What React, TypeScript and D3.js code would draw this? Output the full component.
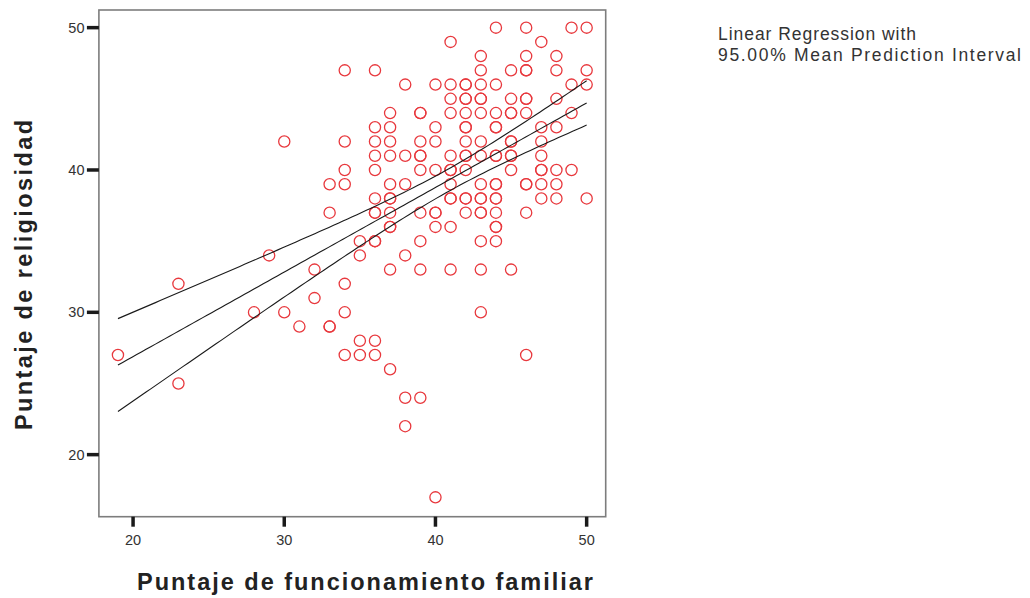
import React from "react";
import * as d3 from "d3";

// Puntaje de funcionamiento familiar (x) — distinct values
const scoreX = [19, 23, 28, 29, 30, 31, 32, 33, 34, 35, 36, 37, 38, 39, 40, 41, 42, 43, 44, 45, 46, 47, 48, 49, 50];
// Puntaje de religiosidad (y) for each x value (duplicates = overlapping circles)
const scoreYByX = [
  [27],
  [32, 25],
  [30],
  [34],
  [42, 30],
  [29],
  [33, 31],
  [39, 37, 29, 29],
  [47, 42, 40, 39, 32, 30, 27],
  [35, 34, 28, 27],
  [47, 43, 42, 41, 40, 38, 37, 37, 35, 35, 28, 27],
  [44, 43, 42, 41, 39, 38, 38, 37, 36, 36, 33, 26],
  [46, 41, 39, 34, 24, 22],
  [44, 44, 42, 41, 41, 40, 37, 35, 33, 24],
  [46, 43, 42, 40, 37, 37, 36, 17],
  [49, 46, 45, 44, 41, 40, 40, 39, 38, 38, 36, 33],
  [46, 46, 45, 45, 44, 43, 43, 42, 41, 41, 40, 38, 38, 37],
  [48, 47, 46, 45, 45, 44, 42, 41, 39, 38, 38, 37, 37, 35, 33, 30],
  [50, 46, 44, 43, 43, 41, 41, 39, 39, 38, 38, 37, 36, 36, 35],
  [47, 45, 44, 44, 42, 42, 41, 41, 40, 33],
  [50, 48, 47, 47, 45, 45, 44, 39, 39, 37, 27],
  [49, 43, 42, 41, 40, 40, 39, 38],
  [48, 47, 45, 43, 40, 39, 38],
  [50, 46, 44, 40],
  [50, 47, 46, 38],
];

const xTicks = [20, 30, 40, 50];
const yTicks = [20, 30, 40, 50];
const xDomain = [17.74, 51.26];
const yDomain = [15.64, 51.24];
const xTitle = "Puntaje de funcionamiento familiar";
const yTitle = "Puntaje de religiosidad";
const legendLines = ["Linear Regression with", "95.00% Mean Prediction Interval"];
const confidence = 0.95;

const FONT = "'Liberation Sans', Arial, Helvetica, sans-serif";

export default function App() {
  const left = 98.9, right = 605.7, top = 10, bottom = 516.7;
  const x = d3.scaleLinear().domain(xDomain).range([left, right]);
  const y = d3.scaleLinear().domain(yDomain).range([bottom, top]);

  const points: { x: number; y: number }[] = [];
  scoreX.forEach((xv, i) => scoreYByX[i].forEach((yv) => points.push({ x: xv, y: yv })));

  // least squares fit + mean confidence band
  const n = points.length;
  const mx = d3.mean(points, (p) => p.x)!;
  const my = d3.mean(points, (p) => p.y)!;
  const sxx = d3.sum(points, (p) => (p.x - mx) ** 2);
  const sxy = d3.sum(points, (p) => (p.x - mx) * (p.y - my));
  const b = sxy / sxx;
  const a = my - b * mx;
  const sse = d3.sum(points, (p) => (p.y - (a + b * p.x)) ** 2);
  const s = Math.sqrt(sse / (n - 2));
  const tcrit = confidence === 0.95 ? 1.972 : 1.96;
  const [xmin, xmax] = d3.extent(points, (p) => p.x) as [number, number];
  const xs = d3.range(0, 101).map((k) => xmin + ((xmax - xmin) * k) / 100);
  const fit = xs.map((xv) => {
    const yh = a + b * xv;
    const hw = tcrit * s * Math.sqrt(1 / n + (xv - mx) ** 2 / sxx);
    return { x: xv, y: yh, lo: yh - hw, hi: yh + hw };
  });
  const line = (key: "y" | "lo" | "hi") =>
    d3.line<any>().x((d) => x(d.x)).y((d) => y(d[key]))(fit) || "";

  return (
    <svg
      width={1030}
      height={598}
      style={{ position: "absolute", left: 0, top: 0, background: "#fff" }}
      fontFamily={FONT}
    >
      <rect x={left} y={top} width={right - left} height={bottom - top} fill="#fff" stroke="#7d7d7d" strokeWidth={1.6} />
      {points.map((p, i) => (
        <circle key={i} cx={x(p.x)} cy={y(p.y)} r={5.6} fill="none" stroke="#e8383d" strokeWidth={1.3} />
      ))}
      {(["hi", "y", "lo"] as const).map((k) => (
        <path key={k} d={line(k)} fill="none" stroke="#1a1a1a" strokeWidth={1.1} />
      ))}
      {xTicks.map((t) => (
        <g key={"x" + t}>
          <line x1={x(t)} x2={x(t)} y1={bottom} y2={bottom + 10} stroke="#1a1a1a" strokeWidth={3.5} />
          <text x={x(t)} y={545} textAnchor="middle" fontSize={14.5} fill="#333">{t}</text>
        </g>
      ))}
      {yTicks.map((t) => (
        <g key={"y" + t}>
          <line x1={left - 12} x2={left} y1={y(t)} y2={y(t)} stroke="#1a1a1a" strokeWidth={3.5} />
          <text x={84.5} y={y(t) + 5} textAnchor="end" fontSize={14.5} fill="#333">{t}</text>
        </g>
      ))}
      <text x={365} y={590} textAnchor="middle" fontSize={23.5} fontWeight="bold" fill="#222"
        textLength={456} lengthAdjust="spacing">{xTitle}</text>
      <text transform="translate(32,275) rotate(-90)" textAnchor="middle" fontSize={23.5} fontWeight="bold" fill="#222"
        textLength={310} lengthAdjust="spacing">{yTitle}</text>
      <text x={718} y={39.5} fontSize={17.5} fill="#333" textLength={198} lengthAdjust="spacing">{legendLines[0]}</text>
      <text x={718} y={60.5} fontSize={17.5} fill="#333" textLength={303} lengthAdjust="spacing">{legendLines[1]}</text>
    </svg>
  );
}
